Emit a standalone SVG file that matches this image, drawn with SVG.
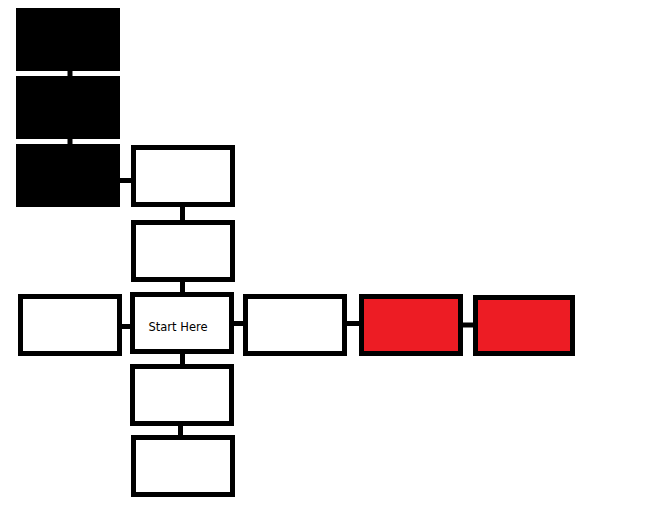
<svg xmlns="http://www.w3.org/2000/svg" width="646" height="512" viewBox="0 0 646 512">
<style>
.blk{fill:#000}
.box{fill:#fff;stroke:#000;stroke-width:5}
.red{fill:#ED1C24;stroke:#000;stroke-width:5}
.ln{stroke:#000;stroke-width:5;fill:none}
.lbl{font-family:"DejaVu Sans","Liberation Sans",sans-serif;font-size:11.5px;fill:#000}
</style>
<rect width="646" height="512" fill="#fff"/>
<g id="connectors">
<line class="ln" x1="70" y1="71" x2="70" y2="76"/>
<line class="ln" x1="70" y1="139" x2="70" y2="144"/>
<line class="ln" x1="120" y1="180.5" x2="131" y2="180.5"/>
<line class="ln" x1="182.5" y1="207" x2="182.5" y2="220"/>
<line class="ln" x1="182.5" y1="282" x2="182.5" y2="292"/>
<line class="ln" x1="122" y1="326.5" x2="130" y2="326.5"/>
<line class="ln" x1="234" y1="323.5" x2="243" y2="323.5"/>
<line class="ln" x1="347" y1="323.5" x2="359" y2="323.5"/>
<line class="ln" x1="463" y1="325" x2="473" y2="325"/>
<line class="ln" x1="182.5" y1="354" x2="182.5" y2="364"/>
<line class="ln" x1="180.5" y1="426" x2="180.5" y2="435"/>
</g>
<g id="black1"><rect class="blk" x="16" y="8" width="104" height="63"/></g>
<g id="black2"><rect class="blk" x="16" y="76" width="104" height="63"/></g>
<g id="black3"><rect class="blk" x="16" y="144" width="104" height="63"/></g>
<g id="top1"><rect class="box" x="133.5" y="147.5" width="99" height="57"/></g>
<g id="top2"><rect class="box" x="133.5" y="222.5" width="99" height="57"/></g>
<g id="left"><rect class="box" x="20.5" y="296.5" width="99" height="57"/></g>
<g id="start"><rect class="box" x="132.5" y="294.5" width="99" height="57"/><text class="lbl" x="178" y="331" text-anchor="middle">Start Here</text></g>
<g id="right"><rect class="box" x="245.5" y="296.5" width="99" height="57"/></g>
<g id="red1"><rect class="red" x="361.5" y="296.5" width="99" height="57"/></g>
<g id="red2"><rect class="red" x="475.5" y="297.5" width="97" height="56"/></g>
<g id="bottom1"><rect class="box" x="132.5" y="366.5" width="99" height="57"/></g>
<g id="bottom2"><rect class="box" x="133.5" y="437.5" width="99" height="57"/></g>
</svg>
